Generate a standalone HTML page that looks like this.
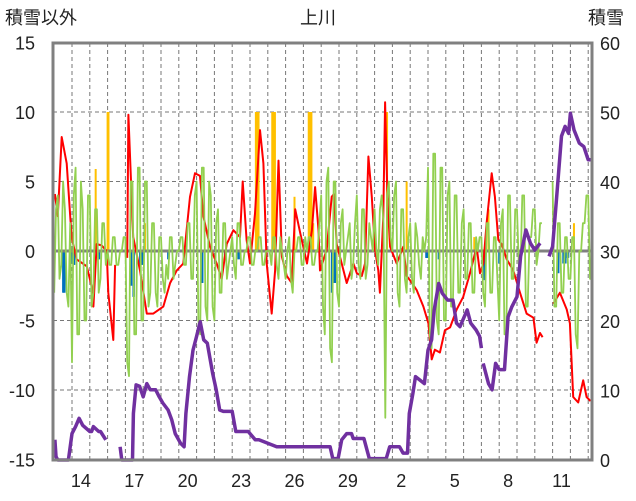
<!DOCTYPE html>
<html><head><meta charset="utf-8"><style>
body{margin:0;background:#fff;}
svg{display:block;font-family:"Liberation Sans","Noto Sans CJK JP",sans-serif;}
</style></head><body>
<svg id="chart" width="636" height="501" viewBox="0 0 636 501">
<text x="5" y="24" font-size="18" fill="#222">積雪以外</text>
<text x="318" y="24" font-size="18" fill="#222" text-anchor="middle">上川</text>
<text x="588" y="24" font-size="18" fill="#222">積雪</text>
<g id="grid"></g><g id="bars"></g><g id="lines"></g><g id="axes"></g>
</svg>
<script>
const leftTicks=[15,10,5,0,-5,-10,-15];
const rightTicks=[60,50,40,30,20,10,0];
const dayLabels=["14","17","20","23","26","29","2","5","8","11"];
const dayLabelT=[14,17,20,23,26,29,32,35,38,41];
const redT=[13.04,13.2,13.42,13.7,13.98,14.26,14.83,15.11,15.2,15.39,15.67,15.95,16.04,16.32,16.42,null,17.1,17.17,17.44,17.82,18.2,18.57,19.13,19.51,19.88,20.25,20.44,20.63,20.91,21.19,21.38,21.75,22.13,22.41,22.69,23.07,23.44,23.59,23.81,24.0,24.28,24.56,24.75,24.94,25.22,25.41,25.6,25.79,26.07,26.35,26.54,26.82,27.2,27.48,27.66,27.85,27.93,28.31,28.59,28.72,28.87,29.15,29.43,29.81,30.0,30.28,30.46,30.65,30.84,31.02,31.21,31.3,31.49,31.59,31.72,31.87,32.24,32.61,32.8,32.99,33.36,33.74,34.02,34.21,34.39,34.67,34.95,35.24,35.61,35.98,36.36,36.73,36.92,37.11,37.29,37.58,37.76,37.95,38.14,38.42,38.79,39.17,39.54,39.92,40.1,40.29,40.44,null,41.04,41.41,41.79,41.97,42.16,42.44,42.72,42.91,43.13];
const redV=[4.1,2.5,8.2,6.3,1,-0.6,-1.1,-2.6,-4,0.5,0.4,0,-3,-6.4,-1,null,-0.5,9.8,1,-1.4,-4.5,-4.5,-4,-2.3,-1.4,-0.9,1.5,3.9,5.6,5.4,2.5,0.3,-0.9,-2,0.5,1.5,1,5,0.8,-0.9,2.7,8.7,6.3,-0.9,-4.5,-1.4,6.5,-0.4,-1.8,-2.3,3,1.3,-0.9,1.5,4.6,1.5,-1.4,0.1,3.9,4.1,0.5,-0.9,-2.3,-0.9,-1.6,-1.8,-0.9,6.8,3.9,0.1,-1.4,-3,2.5,10.7,3.9,0.3,-0.9,0.3,-1.8,-2.1,-2.8,-4,-5.2,-7.8,-7.1,-7.3,-5.7,-5.5,-4.2,-3.3,-1.6,0.3,-1.6,-0.9,2,5.6,3.9,0.8,0.5,-0.6,-1.4,-3,-4.5,-4.8,-6.6,-5.9,-6.2,null,-3.8,-3,-4.2,-5.2,-10.5,-10.9,-9.3,-10.5,-10.8];
const greenStart=13.0, greenStep=0.1;
const greenV=[-3,3,4,-2,-1,5,3,-3,-4,2,
-8,4,6,-6,-6,5,3,-5,-5,4,
4,-4,-3,3,3,-3,-2,2,2,-1,
0,-1,-1,1,1,-1,-1,0,0,1,
1,-8,-9,5,5,-6,-6,6,6,-5,
-5,5,5,-4,-3,2,2,-3,-4,1,
1,-2,-3,-1,-2,1,1,-2,-1,0,
0,1,1,-1,-1,2,2,-2,-2,4,
5,-5,-6,6,6,-4,-5,5,4,-4,
-5,2,3,-3,-3,2,2,-2,-1,0,
1,-1,-2,2,2,-1,-1,0,0,1,
1,-1,-1,0,0,1,1,-1,-1,0,
0,0,-1,1,1,-1,-2,1,0,-1,
-2,0,1,-2,-3,0,0,1,1,-1,
-1,1,0,1,1,-1,-1,0,0,2,
4,-4,-6,5,6,-7,-8,5,5,-3,
-4,2,3,-1,0,1,2,-2,-1,2,
4,-1,-2,3,3,-2,-1,2,1,0,
3,0,-1,3,4,2,-12,4,5,1,
0,4,5,-3,-4,3,3,-2,-3,1,
2,-2,-3,2,1,-1,-2,1,0,1,
6,-6,-7,7,7,-5,-6,6,6,-5,
-5,4,5,-4,-4,4,4,-3,-3,2,
3,-2,-2,2,2,-3,-3,1,0,1,
1,-3,-4,2,2,-3,-3,1,1,-2,
-5,2,3,-6,-6,4,4,-2,-2,3,
3,-1,-1,4,4,-4,-4,1,1,3,
3,-1,0,2,2,null,null,null,null,null,
5,-4,-4,2,2,-3,-3,1,1,-2,
-2,1,1,-6,-7,0,0,2,2,4,
4,-2,-2];
const snowT=[13.04,13.1,13.2,13.8,14.0,14.2,14.4,14.6,15.0,15.1,15.2,15.5,15.6,15.9,null,16.7,16.8,17.4,17.45,17.6,17.8,18.0,18.2,18.4,18.7,18.9,19.1,19.4,19.6,19.8,20.1,20.3,20.4,20.6,20.8,21.0,21.2,21.4,21.6,21.9,22.1,22.3,22.5,23.0,23.2,23.9,24.3,24.5,25.5,25.7,27.93,28.5,28.65,28.95,29.15,29.43,29.7,29.8,30.4,30.7,31.35,31.65,31.85,32.4,32.6,32.85,32.95,33.15,33.3,33.8,34.0,34.2,34.35,34.6,34.8,35.1,35.4,35.6,35.8,36.2,36.4,36.7,36.9,37.0,null,37.1,37.4,37.6,37.8,38.0,38.3,38.5,38.7,39.0,39.2,39.5,39.75,40.0,40.3,null,40.8,41.0,41.2,41.5,41.7,41.9,42.0,42.2,42.5,42.75,43.0,43.13];
const snowV=[2.9,0.5,0,0,3.8,4.8,6,5,4.1,4.1,4.8,4.1,4.1,2.9,null,1.9,0,0,6.7,10.8,10.6,9.1,11,10.1,10.1,9.1,8.2,7.2,5.8,3.8,2.4,1.9,6.7,12,15.8,17.8,19.9,17.3,16.8,12.5,10.1,7.2,7,7,4.1,4.1,2.9,2.9,1.9,1.9,1.9,1.9,0.2,0.2,2.9,3.8,3.8,3.1,3.1,0.2,0.2,0.2,1.9,1.9,1,1,6.7,9.6,12,11,15.8,17.3,21.6,25.4,24,23,23,19.7,19.2,21.6,19.7,18.7,17.8,16.1,null,13.9,11,10.1,13.9,13,13,20.6,22,23.5,29.3,33.1,31.2,30.2,31.2,null,29.3,30.7,37,46.6,48,47,49.9,47.5,45.6,45.1,43.2,43.2];
const yellowT=[15.33,16.0,16.05,18.1,24.33,24.38,24.43,24.48,25.25,25.3,25.35,25.4,26.5,27.3,27.35,27.4,27.45,27.55,31.7,32.8,36.6,37.4,42.2];
const yellowV=[5.9,10,10,2,10,10,10,10,10,10,10,10,3.9,10,10,10,10,2,10,5,1,3,2];
const blueT=[13.5,13.55,13.98,14.1,15.5,17.3,17.45,17.82,17.95,19.4,21.25,21.3,22.6,23.35,28.6,28.75,33.9,33.95,34.6,37.15,38.0,41.3,41.6,41.7,41.85];
const blueV=[-3,-3,-0.9,-1,-0.6,-2.5,-3.3,-1,-1,-0.6,-2.3,-2.3,-0.6,-0.6,-3,-2.3,-0.5,-0.5,-0.6,-2.1,-0.9,-1.6,-0.9,-0.9,-0.5];

const NS="http://www.w3.org/2000/svg";
const L=53,R=592,T=43,B=460;
const xOf=t=>72+(t-14)*17.8;
const yL=v=>251-v*13.9;
const yR=v=>B-v*(B-T)/60;
function mk(tag,attrs,parent){const e=document.createElementNS(NS,tag);for(const k in attrs)e.setAttribute(k,attrs[k]);parent.appendChild(e);return e;}
const grid=document.getElementById('grid'),bars=document.getElementById('bars'),lines=document.getElementById('lines'),axes=document.getElementById('axes');
for(let d=14;d<=43;d++){const x=xOf(d);if(x>L+2&&x<R-2){const g=mk('line',{x1:x,x2:x,y1:T,y2:B,stroke:'#777','stroke-width':1,'stroke-dasharray':'4,3'},grid);

}}
leftTicks.forEach((v,i)=>{const y=yL(v);
if(v!==0&&v!==15&&v!==-15){const g=mk('line',{x1:L,x2:R,y1:y,y2:y,stroke:'#777','stroke-width':1,'stroke-dasharray':'4,3'},grid);

}
const t=mk('text',{x:35,y:y+7,'font-size':18,'text-anchor':'end',fill:'#222'},axes);t.textContent=String(v);

});
rightTicks.forEach(v=>{const t=mk('text',{x:600,y:yR(v)+7,'font-size':18,fill:'#222'},axes);t.textContent=String(v);

});
dayLabels.forEach((s,i)=>{const t=mk('text',{x:xOf(dayLabelT[i]+0.5),y:487,'font-size':18,'text-anchor':'middle',fill:'#222'},axes);t.textContent=s;

});
yellowT.forEach((t,i)=>{const y=yL(yellowV[i]);const r=mk('rect',{x:xOf(t)-1,y:y,width:2,height:yL(0)-y,fill:'#ffc000'},bars);

});
blueT.forEach((t,i)=>{const y=yL(blueV[i]);const r=mk('rect',{x:xOf(t)-1,y:yL(0),width:2.5,height:y-yL(0),fill:'#0070c0'},bars);

});
const z=mk('line',{x1:L,x2:R,y1:yL(0),y2:yL(0),stroke:'#808080','stroke-width':3},bars);


function pathFrom(ts,vs,yf){let d='',pen=false;for(let i=0;i<ts.length;i++){if(ts[i]===null||vs[i]===null){pen=false;continue;}d+=(pen?'L':'M')+xOf(ts[i]).toFixed(1)+' '+yf(vs[i]).toFixed(1)+' ';pen=true;}return d;}
const red=mk('path',{d:pathFrom(redT,redV,yL),fill:'none',stroke:'#ff0000','stroke-width':2,'stroke-linejoin':'round'},lines);


const gT=greenV.map((v,i)=>greenStart+i*greenStep);
const green=mk('path',{d:pathFrom(gT,greenV,yL),fill:'none',stroke:'#92d050','stroke-width':1.8,'stroke-linejoin':'round'},lines);


const snow=mk('path',{d:pathFrom(snowT,snowV,yR),fill:'none',stroke:'#7030a0','stroke-width':3.5,'stroke-linejoin':'round'},lines);


const border=mk('rect',{x:L,y:T,width:R-L,height:B-T,fill:'none',stroke:'#808080','stroke-width':3},axes);


</script>
</body></html>
